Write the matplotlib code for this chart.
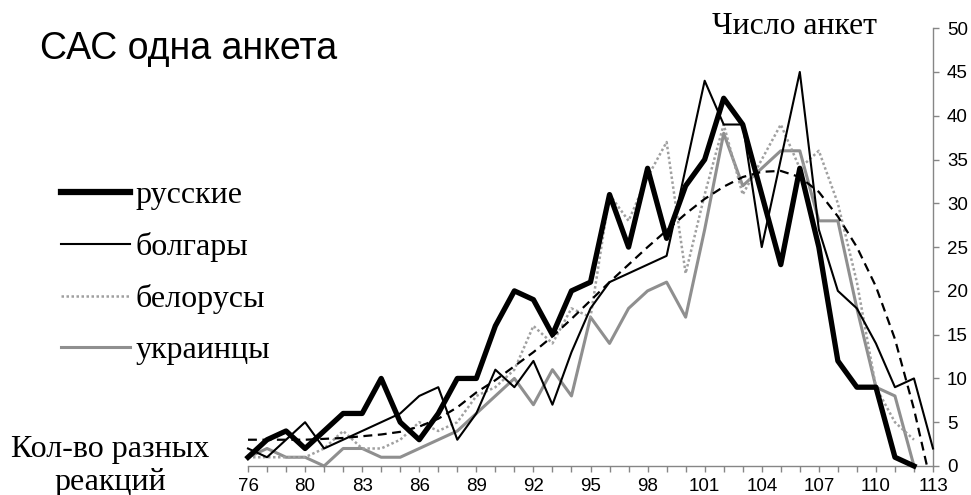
import matplotlib
matplotlib.use('Agg')
import matplotlib.pyplot as plt
import numpy as np

# ---- data ----
categories = [76, 78, 79] + list(range(80, 114))
russians = [1, 3, 4, 2, 4, 6, 6, 10, 5, 3, 6, 10, 10, 16, 20, 19, 15, 20, 21, 31,
            25, 34, 26, 32, 35, 42, 39, 31, 23, 34, 25, 12, 9, 9, 1, 0, None]
bulgarians = [2, 1, 3, 5, 2, 3, 4, 5, 6, 8, 9, 3, 6, 11, 9, 12, 7, 13, 18, 21,
              22, 23, 24, 34, 44, 39, 39, 25, 35, 45, 27, 20, 18, 14, 9, 10, 2]
belarusians = [1, 1, 1, 1, 2, 4, 2, 2, 3, 5, 4, 5, 8, 9, 11, 16, 14, 18, 17, 31,
               28, 33, 37, 22, 31, 39, 31, 35, 39, 34, 36, 30, 21, 9, 5, 3, None]
ukrainians = [1, 2, 1, 1, 0, 2, 2, 1, 1, 2, 3, 4, 6, 8, 10, 7, 11, 8, 17, 14,
              18, 20, 21, 17, 27, 38, 32, 34, 36, 36, 28, 28, 18, 9, 8, 0, None]
trend = [3.0, 3.0, 3.0, 3.0, 3.1, 3.2, 3.4, 3.6, 3.9, 4.5, 5.4, 6.7, 8.4, 9.8,
         11.4, 13.0, 14.8, 16.8, 18.9, 21.0, 23.0, 25.0, 26.9, 28.8, 30.5, 31.9,
         33.0, 33.6, 33.7, 33.0, 31.3, 28.5, 25.0, 20.5, 14.5, 6.5, -3.0]
series_names = ['русские', 'болгары', 'белорусы', 'украинцы']
y_ticks = [0, 5, 10, 15, 20, 25, 30, 35, 40, 45, 50]

title_text = 'САС одна анкета'
y_title = 'Число анкет'
x_title = 'Кол-во разных\nреакций'

SERIF = ['Liberation Serif', 'DejaVu Serif']
SANS = ['Liberation Sans', 'DejaVu Sans']
plt.rcParams['font.family'] = SANS


def arr(v):
    return np.array([np.nan if a is None else a for a in v], dtype=float)


W, H = 971, 495
fig = plt.figure(figsize=(W / 100, H / 100), dpi=100)
fig.patch.set_facecolor('white')
x0, x1, y0, y1 = 248, 933, 466, 28.2
ax = fig.add_axes([x0 / W, 1 - y0 / H, (x1 - x0) / W, (y0 - y1) / H])

x = np.arange(len(categories))
axis_gray = '#868686'

l_ukr, = ax.plot(x, arr(ukrainians), color='#8f8f8f', lw=2.2, clip_on=False,
                 label=series_names[3], zorder=2)
l_bel, = ax.plot(x, arr(belarusians), color='#a0a0a0', lw=1.8, ls=(0, (1, 1)),
                 clip_on=False, label=series_names[2], zorder=3)
l_bul, = ax.plot(x, arr(bulgarians), color='black', lw=1.5, clip_on=False,
                 label=series_names[1], zorder=4)
l_rus, = ax.plot(x, arr(russians), color='black', lw=3.8, clip_on=False,
                 label=series_names[0], zorder=5)
ax.plot(x, trend, color='black', lw=1.6, ls=(0, (4, 2.5)), zorder=6)

ax.set_xlim(0, len(categories) - 1)
ax.set_ylim(0, 50)

for s in ['top', 'left']:
    ax.spines[s].set_visible(False)
for s in ['bottom', 'right']:
    ax.spines[s].set_color(axis_gray)
    ax.spines[s].set_linewidth(1.0)

ax.yaxis.tick_right()
ax.set_yticks(y_ticks)
ax.set_yticklabels([str(t) for t in y_ticks])
ax.set_xticks(x)
ax.set_xticklabels([str(c) if i % 3 == 0 else '' for i, c in enumerate(categories)])
for lab in ax.get_xticklabels() + ax.get_yticklabels():
    lab.set_fontfamily(SANS)
    lab.set_fontsize(13.5)
ax.tick_params(axis='x', direction='out', length=4.5, width=1.0, color=axis_gray, pad=4)
ax.tick_params(axis='y', direction='out', length=4, width=1.0, color=axis_gray, pad=6)

# texts
fig.text(40 / W, 1 - 49 / H, title_text, fontfamily=SANS, fontsize=27,
         ha='left', va='center')
fig.text(794 / W, 1 - 27 / H, y_title, fontfamily=SERIF, fontsize=22.8,
         ha='center', va='center')
fig.text(110 / W, 1 - 466 / H, x_title, fontfamily=SERIF, fontsize=23,
         ha='center', va='center', linespacing=1.15)

leg = fig.legend([l_rus, l_bul, l_bel, l_ukr], series_names,
                 loc='upper left', bbox_to_anchor=(61 / W, 1 - 181 / H),
                 prop={'family': SERIF, 'size': 23}, frameon=False,
                 handlelength=2.15, handletextpad=0.18, labelspacing=0.68,
                 borderaxespad=0, borderpad=0)
leg.get_lines()[0].set_linewidth(4.5)

fig.savefig('out.png', dpi=100, facecolor='white')
